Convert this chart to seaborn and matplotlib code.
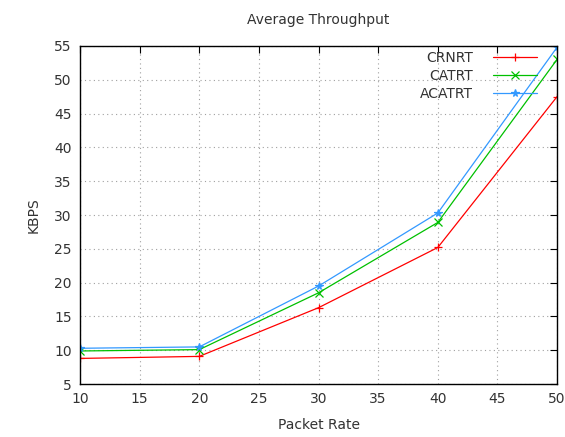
import matplotlib
matplotlib.use("Agg")
import matplotlib.pyplot as plt
import seaborn as sns
import pandas as pd

packet_rate = [10, 20, 30, 40, 50]
crnrt = [8.8, 9.1, 16.3, 25.2, 47.5]
catrt = [9.9, 10.1, 18.5, 28.9, 53.0]
acatrt = [10.3, 10.5, 19.5, 30.3, 54.8]
series_names = ["CRNRT", "CATRT", "ACATRT"]
colors = ["#ff0000", "#00c000", "#3399ff"]
markers = ["+", "x", "*"]

df = pd.DataFrame({"Packet Rate": packet_rate * 3,
                   "KBPS": crnrt + catrt + acatrt,
                   "series": sum([[n] * len(packet_rate) for n in series_names], [])})

sns.set_style("white")
plt.rcParams['font.family'] = ['DejaVu Sans']
fig = plt.figure(figsize=(5.65, 4.37), dpi=100)
ax = fig.add_axes([0.1416, 0.121, 0.8444, 0.774])

for name, c, m in zip(series_names, colors, markers):
    sub = df[df.series == name]
    sns.lineplot(data=sub, x="Packet Rate", y="KBPS", ax=ax, color=c, marker=m,
                 markersize=5.5, markeredgecolor=c, markeredgewidth=0.9, linewidth=0.9,
                 label=name)

ax.set_xlim(10, 50)
ax.set_ylim(5, 55)
ax.set_xticks(range(10, 51, 5))
ax.set_yticks(range(5, 56, 5))
ax.grid(True, linestyle=(0, (1, 3)), color="#a0a0a0", linewidth=0.8)
ax.tick_params(direction="in", top=True, right=True, length=5, labelsize=10, colors="#333333", pad=6)
ax.tick_params(axis="both", colors="black", labelcolor="#333333")
for sp in ax.spines.values():
    sp.set_color("black")
    sp.set_linewidth(1)
ax.set_xlabel("Packet Rate", fontsize=10, color="#333333", labelpad=8)
ax.set_ylabel("KBPS", fontsize=10, color="#333333", labelpad=10)
ax.set_title("Average Throughput", fontsize=10, color="#333333", pad=16)
leg = ax.legend(loc="upper right", bbox_to_anchor=(0.958, 0.985), frameon=False,
                markerfirst=False, fontsize=10,
                handlelength=3.2, borderaxespad=0, labelspacing=0.3, handletextpad=1.4,
                borderpad=0)
for t in leg.get_texts():
    t.set_color("#333333")

fig.savefig("out.png", dpi=100)
